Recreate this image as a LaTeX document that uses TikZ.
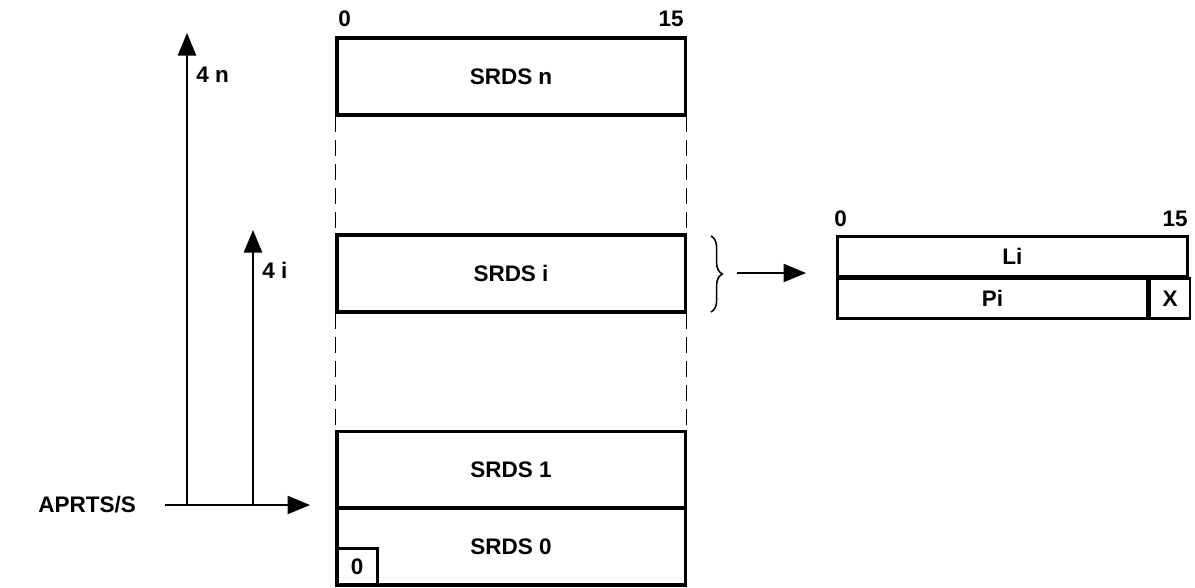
\documentclass[tikz,border=0pt]{standalone}
\usepackage{fontspec}
\setmainfont{Liberation Sans}
\usetikzlibrary{arrows.meta,positioning,calc,decorations.pathreplacing}

\begin{document}
\begin{tikzpicture}[x=0.025cm,y=-0.025cm,>={Triangle[length=16pt,width=13pt]},
    font=\bfseries\fontsize{16}{18}\selectfont]
    \tikzset{
      slot/.style={draw,line width=2.2pt,minimum width=8.7cm,minimum height=1.925cm,
                   inner sep=0pt},
      field/.style={draw,line width=1.9pt,minimum height=0.99cm,inner sep=0pt},
      guide/.style={line width=1.1pt,dash pattern=on 11pt off 6pt},
      arr/.style={->,line width=1.1pt}
    }
    \useasboundingbox (0,0) rectangle (1195,587);

    % the stack of SRDS words
    \node[slot] (srdsn) at (511,76.5) {SRDS n};
    \node[slot] (srdsi) at (511,273.5) {SRDS i};
    \node[slot] (srds1) at (511,470) {SRDS 1};
    \node[slot] (srds0) at (511,546.5) {SRDS 0};
    \node[draw,line width=1.9pt,minimum width=1.025cm,minimum height=0.925cm,inner sep=0pt,
          anchor=south west] (bit0) at (srds0.south west) {0};
    \node[anchor=south west,inner sep=0pt] (lo) at (338,27) {0};
    \node[anchor=south east,inner sep=0pt] (hi) at (684,27) {15};
    \draw[guide] (srdsn.south west) -- (srdsi.north west);
    \draw[guide] (srdsn.south east) -- (srdsi.north east);
    \draw[guide] (srdsi.south west) -- (srds1.north west);
    \draw[guide] (srdsi.south east) -- (srds1.north east);

    % base address and offsets
    \node[anchor=west,inner sep=0pt] (base) at (38,505) {APRTS/S};
    \coordinate (bstart) at (165,505);
    \coordinate (bend) at (310,505);
    \coordinate (nfoot) at (187,505);
    \coordinate (ntop) at (187,33);
    \coordinate (ifoot) at (253,505);
    \coordinate (itop) at (253,230);
    \draw[arr] (bstart) -- (bend);
    \draw[arr] (nfoot) -- (ntop);
    \draw[arr] (ifoot) -- (itop);
    \node[anchor=west,inner sep=0pt] (offn) at (196,75) {4 n};
    \node[anchor=west,inner sep=0pt] (offi) at (262,270) {4 i};

    % expanded SRDS word
    \coordinate (brtop) at (711,236);
    \coordinate (brbot) at (711,312);
    \draw[line width=1.1pt,decorate,decoration={brace,amplitude=8pt}] (brtop) -- (brbot);
    \coordinate (xstart) at (737,273);
    \coordinate (xend) at (806,273);
    \draw[arr] (xstart) -- (xend);
    \node[field,minimum width=8.75cm,anchor=north west] (li) at (836,235) {Li};
    \node[field,minimum width=7.75cm,anchor=north west] (pi) at (li.south west) {Pi};
    \node[field,minimum width=1.0cm,anchor=north west] (xb) at (pi.north east) {X};
    \node[anchor=south west,inner sep=0pt] (lo2) at (834,227) {0};
    \node[anchor=south east,inner sep=0pt] (hi2) at (1188,227) {15};
  \end{tikzpicture}
\end{document}
